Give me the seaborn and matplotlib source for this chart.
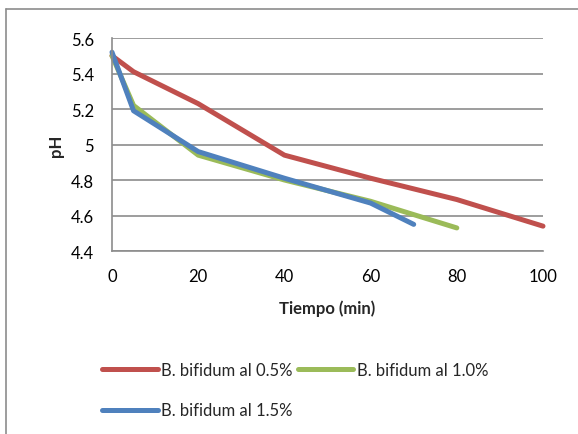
import matplotlib
matplotlib.use("Agg")
import matplotlib.pyplot as plt
import seaborn as sns
import pandas as pd
from matplotlib.lines import Line2D

series_names = ["B. bifidum al 0.5%", "B. bifidum al 1.0%", "B. bifidum al 1.5%"]
t_05 = [0, 5, 20, 40, 60, 80, 100]
ph_05 = [5.50, 5.41, 5.23, 4.94, 4.81, 4.69, 4.54]
t_10 = [0, 5, 20, 40, 60, 80]
ph_10 = [5.50, 5.22, 4.94, 4.80, 4.68, 4.53]
t_15 = [0, 5, 20, 40, 60, 70]
ph_15 = [5.52, 5.19, 4.96, 4.81, 4.67, 4.55]
colors = ["#C0504D", "#9BBB59", "#4F81BD"]

rows = []
for name, ts, ps in zip(series_names, [t_05, t_10, t_15], [ph_05, ph_10, ph_15]):
    for t, p in zip(ts, ps):
        rows.append({"Tiempo": t, "pH": p, "serie": name})
df = pd.DataFrame(rows)

sns.set_theme(style="white")
plt.rcParams['font.family'] = ['Lato', 'DejaVu Sans']

fig = plt.figure(figsize=(5.78, 4.35), dpi=100)
ax = fig.add_axes([112/578, 1-252/435, (543-112)/578, (252-39)/435])

sns.lineplot(data=df, x="Tiempo", y="pH", hue="serie", hue_order=series_names,
             palette=colors, linewidth=3.6, ax=ax, legend=False, sort=False,
             estimator=None, solid_capstyle="round")
for ln in ax.get_lines():
    ln.set_clip_on(False)

ax.set_xlim(0, 100)
ax.set_ylim(4.4, 5.6)
ax.set_xticks([0, 20, 40, 60, 80, 100])
ax.set_yticks([4.4, 4.6, 4.8, 5.0, 5.2, 5.4, 5.6])
ax.set_yticklabels(["4.4", "4.6", "4.8", "5", "5.2", "5.4", "5.6"])
ax.yaxis.grid(True, color="#8C8C8C", linewidth=1.2)
ax.set_axisbelow(True)
for s in ["top", "right"]:
    ax.spines[s].set_visible(False)
for s in ["left", "bottom"]:
    ax.spines[s].set_color("#8C8C8C")
    ax.spines[s].set_linewidth(1.2)
ax.tick_params(axis="both", labelsize=12, colors="black", length=0)
ax.tick_params(axis="x", pad=12)
ax.tick_params(axis="y", pad=13)
ax.set_xlabel("Tiempo (min)", fontsize=12, fontweight="bold", labelpad=11)
ax.set_ylabel("pH", fontsize=12, fontweight="bold", labelpad=5)

handles = [Line2D([], [], color=c, linewidth=3.6, solid_capstyle="round") for c in colors]
order = [0, 2, 1]
fig.legend([handles[i] for i in order], [series_names[i] for i in order],
           loc="upper left", bbox_to_anchor=(102/578, 1-363/435), ncol=2,
           frameon=False, fontsize=12, handlelength=3.35, handletextpad=0.2,
           columnspacing=0.3, labelspacing=1.46, borderaxespad=0, borderpad=0)

# outer chart border (top and left)
fig.add_artist(Line2D([6/578, 1], [1-10/435, 1-10/435], color="#8C8C8C", linewidth=1.2,
                      transform=fig.transFigure))
fig.add_artist(Line2D([6/578, 6/578], [0, 1-10/435], color="#8C8C8C", linewidth=1.2,
                      transform=fig.transFigure))

fig.savefig("out.png", dpi=100, facecolor="white")
